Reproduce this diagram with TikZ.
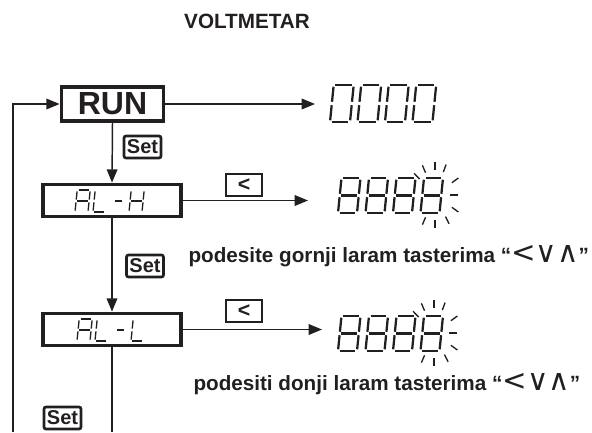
\documentclass[tikz,border=0pt]{standalone}
\usepackage{fontspec}
\setmainfont{Liberation Sans}
\newfontfamily\symfont{DejaVu Sans}
\usetikzlibrary{arrows.meta}

\definecolor{ink}{RGB}{35,31,32}

% segments of a seven segment digit (unit cell, y up)
\expandafter\def\csname seg-a\endcsname{(0,1)--(1,1)}
\expandafter\def\csname seg-b\endcsname{(1,1)--(1,0.5)}
\expandafter\def\csname seg-c\endcsname{(1,0.5)--(1,0)}
\expandafter\def\csname seg-d\endcsname{(0,0)--(1,0)}
\expandafter\def\csname seg-e\endcsname{(0,0)--(0,0.5)}
\expandafter\def\csname seg-f\endcsname{(0,0.5)--(0,1)}
\expandafter\def\csname seg-g\endcsname{(0,0.5)--(1,0.5)}

% \segchar{x}{y bottom}{width}{height}{segments}
\newcommand{\segchar}[5]{%
  \pgfmathsetmacro\segsl{0.1*#4/#3}%
  \begin{scope}[shift={(#1,#2)},xscale=#3,yscale=-#4,xslant=\segsl]
    \foreach \s in {#5}{\expandafter\let\expandafter\segpath\csname seg-\s\endcsname
      \draw[segline] \segpath;}
  \end{scope}}

% \blink{x}{y}: rays round a flashing digit
\newcommand{\blink}[2]{%
  \begin{scope}[shift={(#1,#2)}]
    \foreach \a in {-134,-113,-90,-70,-36,0,36,64,90,113}{%
      \pgfmathsetmacro\ri{15+10*abs(sin(\a))}%
      \pgfmathsetmacro\ro{\ri+8}%
      \draw[rayline] (\a:\ri) -- (\a:\ro);}
  \end{scope}}

\tikzset{every picture/.style={line width=0.75pt}}
\tikzset{
  flow/.style={draw=ink,line width=1.1pt,-{Triangle[length=10pt,width=8pt]}},
  plain/.style={draw=ink,line width=1.1pt},
  title/.style={text=ink,inner sep=0pt,font=\fontsize{15.5}{18}\selectfont\bfseries},
  hint/.style={text=ink,inner sep=0pt,font=\fontsize{15.5}{18}\selectfont\bfseries},
  keysyms/.style={font=\symfont\fontsize{22}{22}\selectfont\mdseries},
  runbox/.style={draw=ink,text=ink,line width=2.3pt,minimum width=77pt,minimum height=25.5pt,
    inner sep=0pt,font=\fontsize{24}{24}\selectfont\bfseries},
  menubox/.style={draw=ink,line width=2.3pt,minimum width=103.5pt,minimum height=24.5pt,inner sep=0pt},
  setkey/.style={draw=ink,text=ink,line width=2pt,rounded corners=1.5pt,minimum width=27.75pt,
    minimum height=16.5pt,inner sep=0pt,font=\fontsize{15}{15}\selectfont\bfseries},
  leftkey/.style={draw=ink,text=ink,line width=2pt,minimum width=27pt,minimum height=16.5pt,
    inner sep=0pt,font=\fontsize{16}{16}\selectfont\bfseries},
  segline/.style={draw=ink,line width=1.7pt,shorten <=1.3pt,shorten >=1.3pt},
  rayline/.style={draw=ink,line width=1pt}
}
\newcommand{\keysyms}{{\symfont\fontsize{22}{22}\selectfont\mdseries <∨∧}}

\begin{document}
\begin{tikzpicture}[x=0.75pt,y=0.75pt,yscale=-1,xscale=1]
	\useasboundingbox (0,0) rectangle (592,432);

	% Text Node
	\node[title,anchor=base] (title) at (247,28) {VOLTMETAR};

	% Menu boxes
	\node[runbox] (run) at (112.5,104) {RUN};
	\node[menubox] (alh) at (112,200.5) {};
	\node[menubox] (all) at (112,329.5) {};

	% Keys
	\node[setkey] (set1) at (142.5,147) {Set};
	\node[setkey] (set2) at (145,266) {Set};
	\node[setkey] (set3) at (62.5,418) {Set};
	\node[leftkey] (left1) at (244,185) {<};
	\node[leftkey] (left2) at (244,311) {<};

	% free ends
	\coordinate (fb) at (13,432);
	\coordinate (down) at (112,432);
	\coordinate (d0) at (315,104);
	\coordinate (d1) at (308,200.5);
	\coordinate (d2) at (322,329.5);

	% Connection
	\draw[flow] (fb) |- (run.west);
	\draw[flow] (run.east) -- (d0);
	\draw[flow] (run.south) -- (alh.north);
	\draw[flow] (alh.east) -- (d1);
	\draw[flow] (alh.south) -- (all.north);
	\draw[flow] (all.east) -- (d2);
	\draw[plain] (all.south) -- (down);

	% Text Node
	\node[hint,anchor=base west] (hint1) at (188,262) {podesite gornji laram tasterima “\keysyms”};
	% Text Node
	\node[hint,anchor=base west] (hint2) at (193,390) {podesiti donji laram tasterima “\keysyms”};

	% menu texts
	\begin{scope}
	\tikzset{segline/.style={draw=ink,line width=1pt,shorten <=1pt,shorten >=1pt}}
	\segchar{75}{212}{13}{22}{a,b,c,e,f,g}
	\segchar{93}{212}{12}{22}{d,e,f}
	\segchar{113}{212}{9}{22}{g}
	\segchar{129}{212}{13}{22}{b,c,e,f,g}
	\segchar{77}{341}{13}{22}{a,b,c,e,f,g}
	\segchar{95}{341}{12}{22}{d,e,f}
	\segchar{115}{341}{9}{22}{g}
	\segchar{131}{341}{12}{22}{d,e,f}
	\end{scope}

	% displays
	\foreach \i in {0,...,3}{\segchar{330+27.5*\i}{122}{20}{37}{a,b,c,d,e,f}}
	\foreach \i in {0,...,3}{\segchar{338+27.5*\i}{213}{19}{35}{a,b,c,d,e,f,g}}
	\foreach \i in {0,...,3}{\segchar{338+27.5*\i}{351}{19}{35}{a,b,c,d,e,f,g}}
	\blink{435}{195}
	\blink{434}{333}

\end{tikzpicture}
\end{document}
